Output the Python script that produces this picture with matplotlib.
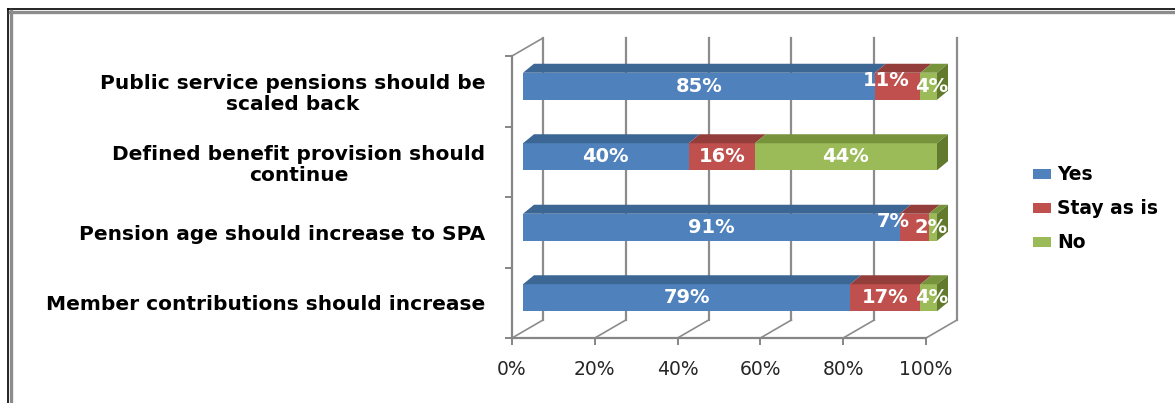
import matplotlib
matplotlib.use("Agg")
import matplotlib.pyplot as plt
from matplotlib.patches import Polygon, Patch
from matplotlib.lines import Line2D

# Survey answers, bottom row first
questions = [
    "Member contributions should increase",
    "Pension age should increase to SPA",
    "Defined benefit provision should\ncontinue",
    "Public service pensions should be\nscaled back",
]
yes = [79, 91, 40, 85]
stay = [17, 7, 16, 11]
no = [4, 2, 44, 4]
series_names = ["Yes", "Stay as is", "No"]
x_ticks = [0, 20, 40, 60, 80, 100]

front_cols = ["#4F81BD", "#C0504D", "#9BBB59"]
top_cols = ["#3C6694", "#943E3C", "#77933C"]
side_col = "#627A2E"
grid_col = "#8C8C8C"
axis_col = "#868686"

W, H = 1175, 403
fig = plt.figure(figsize=(W / 100, H / 100), dpi=100)
fig.patch.set_facecolor("white")

# front plane of the 3-D plot box in figure pixels
x0_px, x1_px, y0_px, y1_px = 512, 926, 338, 56
ax = fig.add_axes([x0_px / W, (H - y0_px) / H, (x1_px - x0_px) / W, (y0_px - y1_px) / H])
ax.set_xlim(0, 100)
ax.set_ylim(0, len(questions))
ax.patch.set_alpha(0)

ux = (x1_px - x0_px) / 100.0          # pixels per percent
uy = (y0_px - y1_px) / len(questions)  # pixels per category
wall_dx, wall_dy = 31 / ux, 18 / uy   # depth of the box
bar_x0, bar_y0 = 11 / ux, 5 / uy      # bar front face set back into the box
bar_dx, bar_dy = 11 / ux, 9 / uy      # bar depth
bar_h = 27 / uy

n = len(questions)

# back wall gridlines and floor diagonals
for xv in x_ticks:
    ax.plot([xv + wall_dx, xv + wall_dx], [wall_dy, n + wall_dy], color=grid_col,
            lw=1.6, clip_on=False, zorder=1)
    ax.plot([xv, xv + wall_dx], [0, wall_dy], color=grid_col, lw=1.2,
            clip_on=False, zorder=1)
ax.plot([0, wall_dx], [n, n + wall_dy], color=grid_col, lw=1.2, clip_on=False, zorder=1)

# stacked 3-D bars
values = [yes, stay, no]
bar_end = 100 + bar_x0 + bar_dx
for i in range(n):
    yc = i + 0.5 + bar_y0
    yb, yt = yc - bar_h / 2, yc + bar_h / 2
    left = 0
    for k, vals in enumerate(values):
        v = vals[i]
        xl = left + bar_x0
        ax.barh(yc, v, left=xl, height=bar_h, color=front_cols[k], lw=0,
                zorder=3, clip_on=False)
        ax.add_patch(Polygon([(xl, yt), (xl + v, yt), (xl + v + bar_dx, yt + bar_dy),
                              (xl + bar_dx, yt + bar_dy)], closed=True,
                             facecolor=top_cols[k], lw=0, zorder=3, clip_on=False))
        left += v
    xr = left + bar_x0
    ax.add_patch(Polygon([(xr, yb), (xr, yt), (xr + bar_dx, yt + bar_dy),
                          (xr + bar_dx, yb + bar_dy)], closed=True,
                         facecolor=side_col, lw=0, zorder=3, clip_on=False))

    # value labels; small end segments get pushed to the right edge
    left = 0
    for k, vals in enumerate(values):
        v = vals[i]
        xc = left + bar_x0 + v / 2
        ha, dy = "center", 0
        if v < 12 and k == len(values) - 1:
            xc, ha = bar_end, "right"
        elif v < 12:
            xc, ha, dy = bar_end - 38 / ux, "right", 6
        ax.annotate(f"{v}%", (xc, yc), xytext=(0, dy), textcoords="offset pixels",
                    ha=ha, va="center", color="white", fontsize=14,
                    fontweight="bold", zorder=5, annotation_clip=False)
        left += v

# axes, ticks and labels
for s in ["top", "right"]:
    ax.spines[s].set_visible(False)
for s in ["left", "bottom"]:
    ax.spines[s].set_color(axis_col)
    ax.spines[s].set_linewidth(1.6)
    ax.spines[s].set_zorder(2)

ax.set_xticks(x_ticks, [f"{t}%" for t in x_ticks])
ax.tick_params(axis="x", length=5, width=1.4, color=axis_col, pad=11,
               labelsize=13.5, labelcolor="#262626")
ax.set_yticks([i + 0.5 for i in range(n)], questions)
ax.set_yticks(range(n + 1), minor=True)
ax.tick_params(axis="y", which="major", length=0, pad=19, labelsize=14.5)
ax.tick_params(axis="y", which="minor", length=5, width=1.4, color=axis_col)
for lab in ax.get_yticklabels():
    lab.set_multialignment("center")
    lab.set_fontweight("bold")
    lab.set_linespacing(1.12)

# legend
handles = [Patch(facecolor=c, edgecolor="none") for c in front_cols]
fig.legend(handles, series_names, loc="center left", bbox_to_anchor=(1033 / W, (H - 209) / H),
           frameon=False, prop={"weight": "bold", "size": 13.5},
           handlelength=0.95, handleheight=0.5, handletextpad=0.35, labelspacing=0.8,
           borderpad=0, borderaxespad=0)

# chart frame
fig.add_artist(Line2D([7.5 / W, 7.5 / W], [0, 1 - 9 / H], color="black", lw=1.2,
                      transform=fig.transFigure))
fig.add_artist(Line2D([7.5 / W, 1], [1 - 9 / H, 1 - 9 / H], color="black", lw=1.2,
                      transform=fig.transFigure))
fig.add_artist(Line2D([10.5 / W, 10.5 / W], [0, 1 - 11 / H], color="#8C8C8C", lw=2.4,
                      transform=fig.transFigure))
fig.add_artist(Line2D([10 / W, 1], [1 - 11.5 / H, 1 - 11.5 / H], color="#8C8C8C", lw=2.4,
                      transform=fig.transFigure))

fig.savefig("out.png", dpi=100)
